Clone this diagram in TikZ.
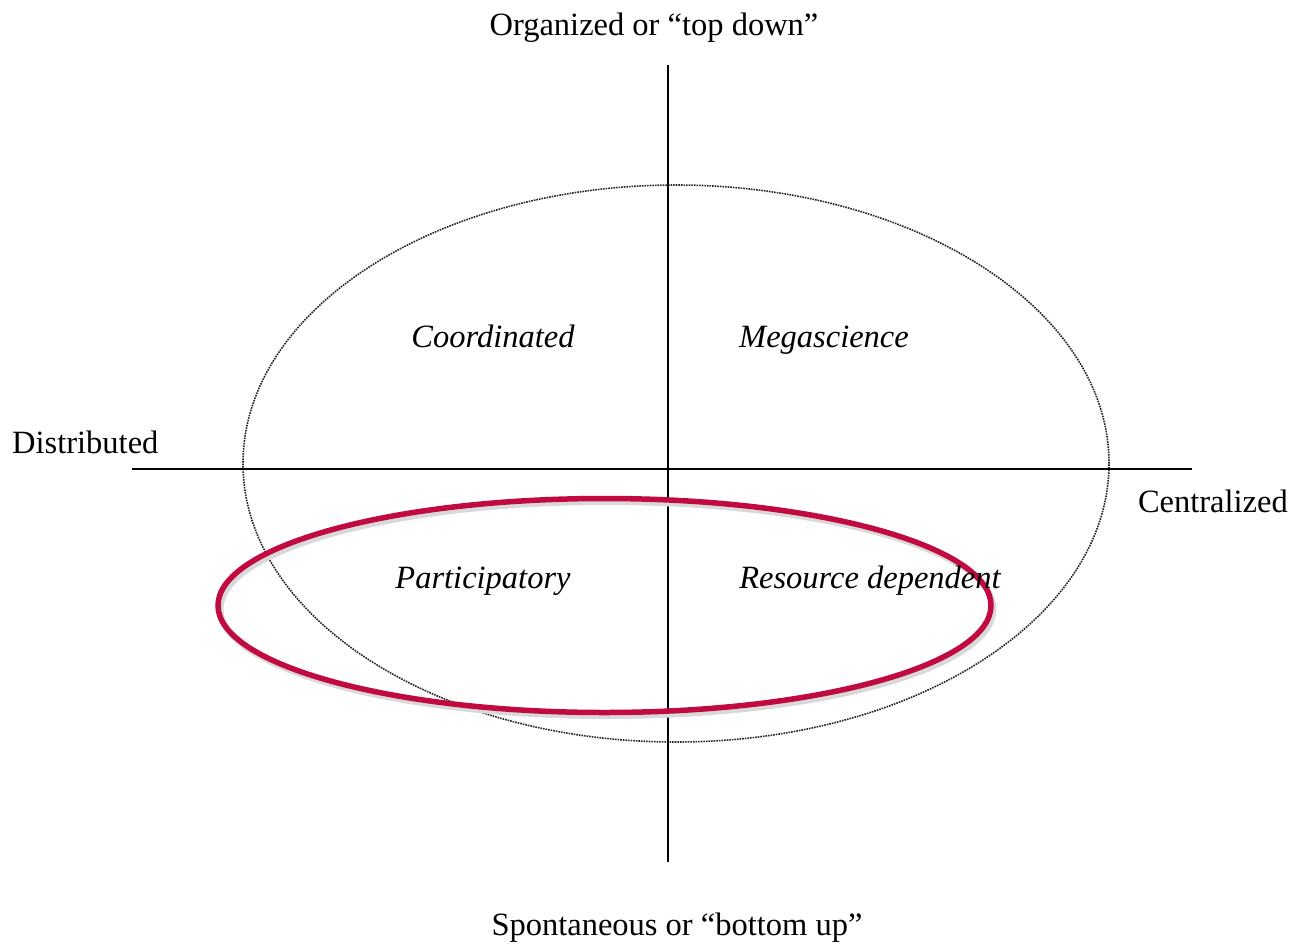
\documentclass[tikz,border=0pt]{standalone}
\usepackage{fontspec}
\setmainfont{Liberation Serif}
\usetikzlibrary{shapes.geometric}
\definecolor{crim}{HTML}{C00A40}
\begin{document}
\begin{tikzpicture}[x=1pt,y=-1pt,
  lbl/.style={inner sep=0pt,anchor=base,font=\fontsize{32.5}{38}\selectfont},
  qlbl/.style={inner sep=0pt,anchor=base,font=\fontsize{32.5}{38}\selectfont\itshape},
  axis/.style={line width=1.3pt,black},
  dotell/.style={densely dotted,line width=1.6pt,black!85},
  redell/.style={line width=5.5pt,crim}]
\useasboundingbox (0,0) rectangle (1293,943);
% coordinates for axes
\coordinate (vt) at (668,65);
\coordinate (vb) at (668,862);
\coordinate (hl) at (132,469);
\coordinate (hr) at (1192,469);
% dotted ellipse
\node[dotell,draw,ellipse,minimum width=866pt,minimum height=557pt,inner sep=0pt] (outer) at (676,463.5) {};
% axes
\draw[axis] (vt) -- (vb);
\draw[axis] (hl) -- (hr);
% red ellipse with shadow
\draw[line width=6pt,black!15] (607,609) ellipse [x radius=386.5pt,y radius=107pt];
\draw[redell] (604.5,605.5) ellipse [x radius=386.5pt,y radius=107pt];
\coordinate (redc) at (604.5,605.5);
% labels
\node[lbl] (top) at (654,35) {Organized or “top down”};
\node[lbl] (bot) at (677,935) {Spontaneous or “bottom up”};
\node[lbl,anchor=base west] (dist) at (12,453) {Distributed};
\node[lbl,anchor=base east] (cent) at (1288,512) {Centralized};
\node[qlbl] (coord) at (493,347) {Coordinated};
\node[qlbl] (mega) at (824,347) {Megascience};
\node[qlbl] (part) at (483,588) {Participatory};
\node[qlbl] (res) at (870,588) {Resource dependent};
\end{tikzpicture}
\end{document}
